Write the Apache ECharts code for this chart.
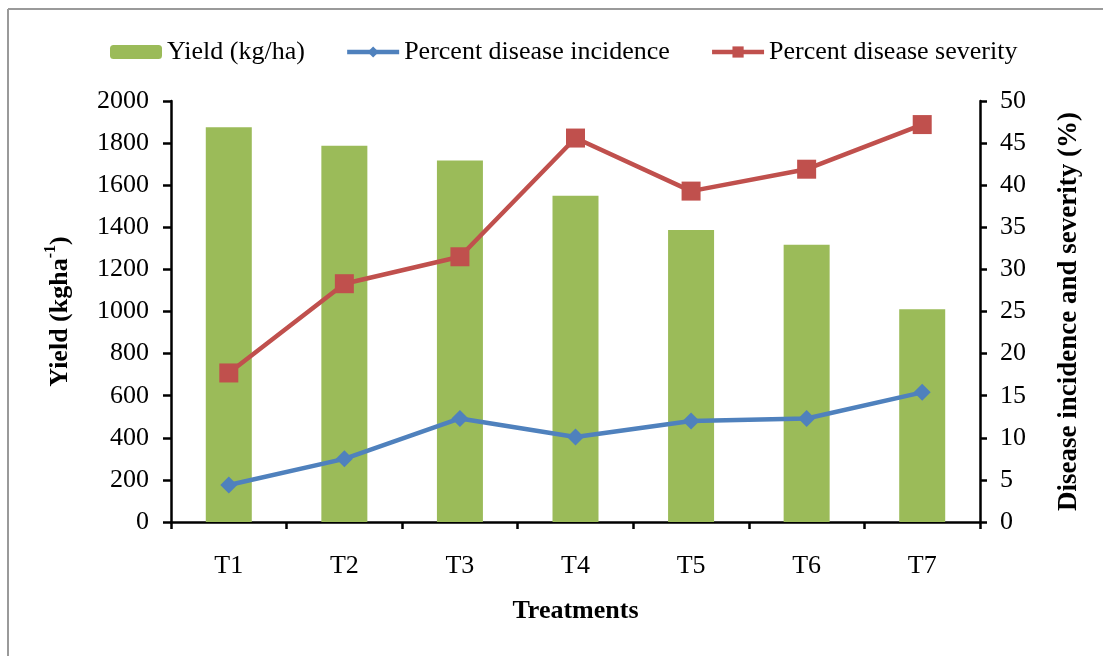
<!DOCTYPE html>
<html>
<head>
<meta charset="utf-8">
<script src="https://cdn.jsdelivr.net/npm/echarts@6/dist/echarts.min.js"></script>
<style>
html,body{margin:0;padding:0;background:#fff;}
#chart{width:1103px;height:656px;}
</style>
</head>
<body>
<div id="chart"></div>
<script>
const categories = ['T1', 'T2', 'T3', 'T4', 'T5', 'T6', 'T7'];
const yieldValues = [1875, 1788, 1717, 1550, 1387, 1317, 1011];
const incidenceValues = [4.4, 7.5, 12.3, 10.1, 12.0, 12.3, 15.4];
const severityValues = [17.7, 28.3, 31.5, 45.6, 39.3, 41.9, 47.2];
const seriesNames = ['Yield (kg/ha)', 'Percent disease incidence', 'Percent disease severity'];

const FONT = '"Liberation Serif", "Times New Roman", serif';
const chart = echarts.init(document.getElementById('chart'));
const axisLineStyle = { color: '#000', width: 2.5 };
const plain = v => String(v);

chart.setOption({
  animation: false,
  backgroundColor: '#fff',
  textStyle: { fontFamily: FONT, color: '#000' },
  graphic: [
    { type: 'line', shape: { x1: 8, y1: 9, x2: 8, y2: 656 }, style: { stroke: '#9a9a9a', lineWidth: 2 } },
    { type: 'line', shape: { x1: 8, y1: 9, x2: 1103, y2: 9 }, style: { stroke: '#9a9a9a', lineWidth: 2 } }
  ],
  legend: {
    left: 105, top: 34,
    itemWidth: 52, itemHeight: 14, itemGap: 40,
    textStyle: { fontFamily: FONT, fontSize: 26, color: '#000' },
    data: [
      { name: seriesNames[0] },
      { name: seriesNames[1], lineStyle: { width: 4.5 } },
      { name: seriesNames[2], lineStyle: { width: 4.5 } }
    ]
  },
  grid: { left: 171, right: 123, top: 101, bottom: 134 },
  xAxis: {
    type: 'category',
    data: categories,
    name: 'Treatments',
    nameLocation: 'middle',
    nameGap: 76,
    nameTextStyle: { fontFamily: FONT, fontSize: 26, fontWeight: 'bold', color: '#000' },
    axisLine: { lineStyle: axisLineStyle },
    axisTick: { show: true, length: 7, lineStyle: { color: '#000', width: 2.5 } },
    axisLabel: { margin: 31, fontFamily: FONT, fontSize: 26, color: '#000' }
  },
  yAxis: [
    {
      type: 'value', min: 0, max: 2000, interval: 200,
      name: '{b|Yield (kgha}{s|-1}{b|)}',
      nameLocation: 'middle', nameRotate: 90, nameGap: 98,
      nameTextStyle: {
        rich: {
          b: { fontFamily: FONT, fontSize: 26, fontWeight: 'bold', color: '#000', lineHeight: 30, verticalAlign: 'bottom' },
          s: { fontFamily: FONT, fontSize: 16, fontWeight: 'bold', color: '#000', lineHeight: 30, verticalAlign: 'top', padding: [0, 0, 12, 0] }
        }
      },
      splitLine: { show: false },
      axisLine: { show: true, lineStyle: axisLineStyle },
      axisTick: { show: true, length: 8, lineStyle: { color: '#000', width: 2.5 } },
      axisLabel: { margin: 22, fontFamily: FONT, fontSize: 26, color: '#000', formatter: plain }
    },
    {
      type: 'value', min: 0, max: 50, interval: 5, position: 'right',
      name: 'Disease incidence and severity (%)',
      nameLocation: 'middle', nameRotate: 90, nameGap: 76,
      nameTextStyle: { fontFamily: FONT, fontSize: 27, fontWeight: 'bold', color: '#000' },
      splitLine: { show: false },
      axisLine: { show: true, lineStyle: axisLineStyle },
      axisTick: { show: true, length: 7, lineStyle: { color: '#000', width: 2.5 } },
      axisLabel: { margin: 20, fontFamily: FONT, fontSize: 26, color: '#000', formatter: plain }
    }
  ],
  series: [
    {
      name: seriesNames[0], type: 'bar', yAxisIndex: 0,
      data: yieldValues, barWidth: 46,
      itemStyle: { color: '#9BBB59' }
    },
    {
      name: seriesNames[1], type: 'line', yAxisIndex: 1,
      data: incidenceValues,
      symbol: 'diamond', symbolSize: 17,
      lineStyle: { color: '#4F81BD', width: 4.5 },
      itemStyle: { color: '#4F81BD' }
    },
    {
      name: seriesNames[2], type: 'line', yAxisIndex: 1,
      data: severityValues,
      symbol: 'rect', symbolSize: 19,
      lineStyle: { color: '#C0504D', width: 4.5 },
      itemStyle: { color: '#C0504D' }
    }
  ]
});
</script>
</body>
</html>
